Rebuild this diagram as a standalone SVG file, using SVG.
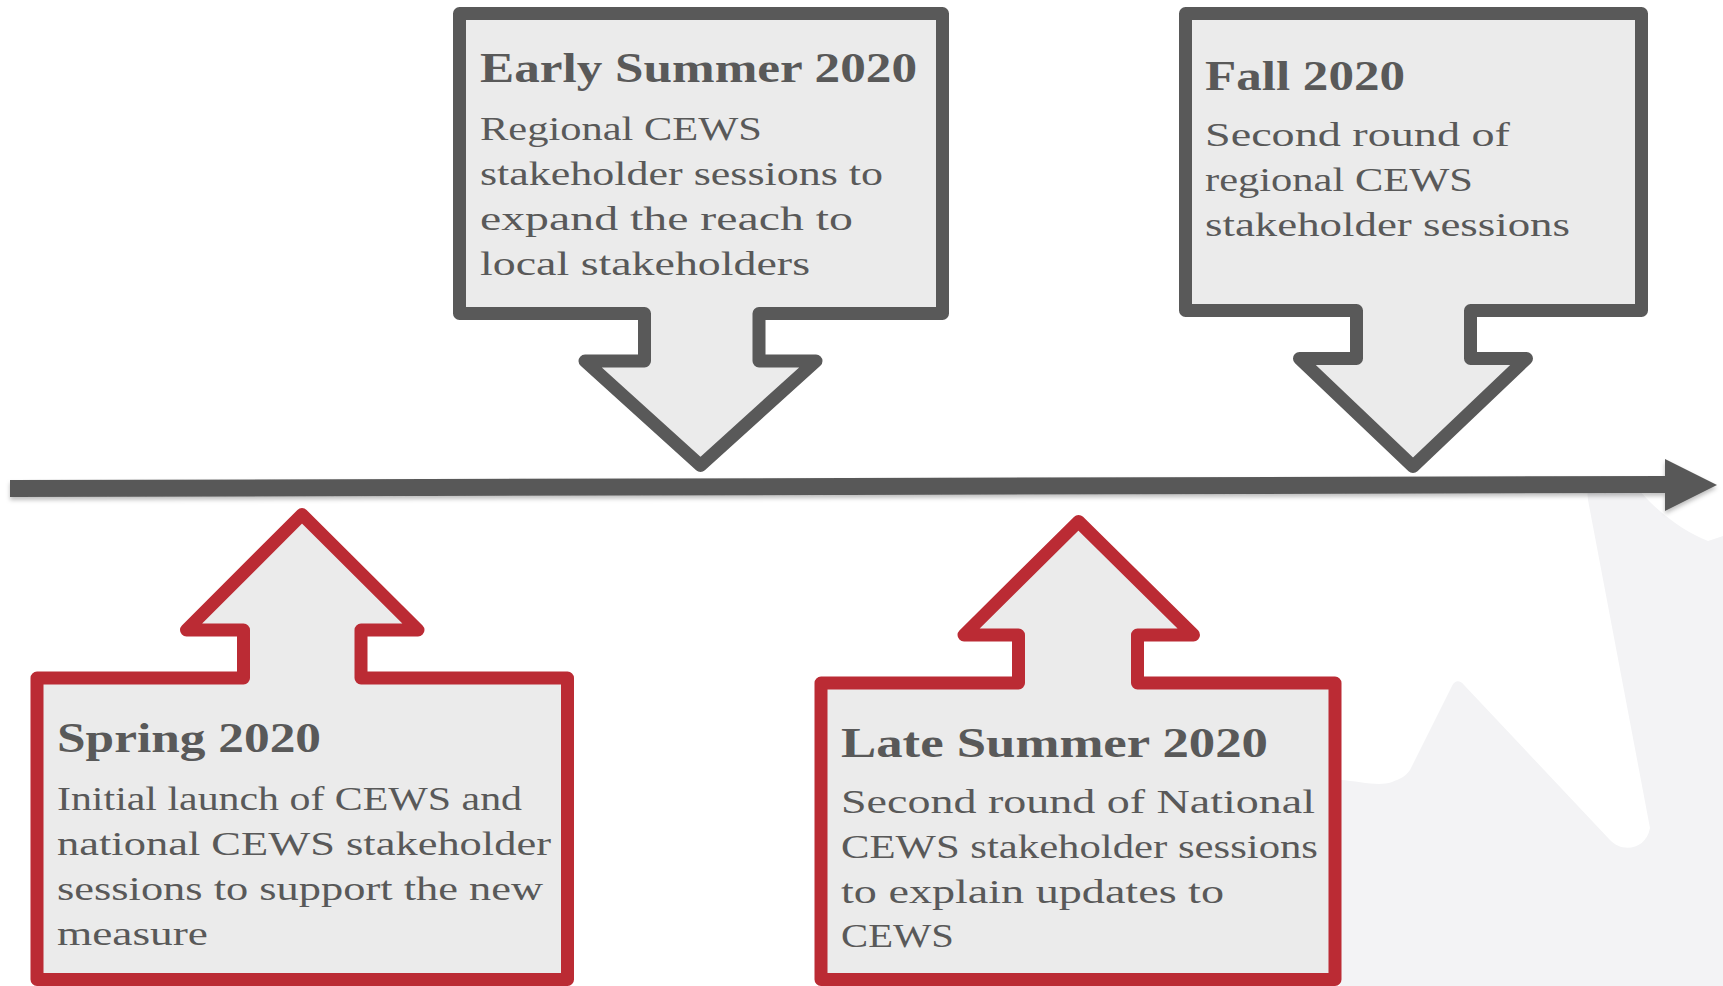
<svg xmlns="http://www.w3.org/2000/svg" width="1723" height="986" viewBox="0 0 1723 986">
<style>
  .bg { fill: #ffffff; }
  .wm { fill: #f3f3f5; }
  .callout-gray { fill: #ebebeb; stroke: #595959; stroke-width: 13; stroke-linejoin: round; }
  .callout-red { fill: #ebebeb; stroke: #bb2b34; stroke-width: 13; stroke-linejoin: round; }
  .head { font-family: "Liberation Serif", "Times New Roman", serif; font-weight: bold; font-size: 43px; fill: #595959; }
  .body { font-family: "Liberation Serif", "Times New Roman", serif; font-size: 34px; fill: #595959; }
  .tl { fill: #595959; }
</style>
<defs>
  <filter id="shadow" x="-5%" y="-50%" width="110%" height="250%">
    <feDropShadow dx="0" dy="3" stdDeviation="2" flood-color="#000000" flood-opacity="0.25"/>
  </filter>
</defs>
<rect class="bg" x="0" y="0" width="1723" height="986"/>
<path class="wm" d="M1586,478 L1630,478 C1648,505 1680,530 1708,541 L1723,536 V986 H1340 V780 C1360,781 1378,787 1392,782 C1400,779 1406,776 1410,770 L1452,686 C1455,680 1460,680 1464,685 L1610,840 C1622,853 1646,850 1650,828 L1588,500 Z"/>
<g id="connectors">
  <g id="timeline" filter="url(#shadow)">
    <polygon class="tl" points="10,480 1667,476 1667,493 10,497"/>
    <polygon class="tl" points="1665,459 1717,485 1665,511"/>
  </g>
</g>
<g id="node-early-summer">
  <path class="callout-gray" d="M459.5,13.5 H942.5 V313.5 H759 V361 H816 L700.5,465.5 L585,361 H644.5 V313.5 H459.5 Z"/>
  <text class="head" x="480" y="82" textLength="437" lengthAdjust="spacingAndGlyphs">Early Summer 2020</text>
  <text class="body" x="480" y="140" textLength="282" lengthAdjust="spacingAndGlyphs">Regional CEWS</text>
  <text class="body" x="480" y="185" textLength="403" lengthAdjust="spacingAndGlyphs">stakeholder sessions to</text>
  <text class="body" x="480" y="230" textLength="373" lengthAdjust="spacingAndGlyphs">expand the reach to</text>
  <text class="body" x="480" y="275" textLength="330" lengthAdjust="spacingAndGlyphs">local stakeholders</text>
</g>
<g id="node-fall">
  <path class="callout-gray" d="M1185.5,13.5 H1641.5 V310.5 H1470.5 V358.5 H1526.5 L1413,466.5 L1299.5,358.5 H1356.5 V310.5 H1185.5 Z"/>
  <text class="head" x="1205" y="90" textLength="200" lengthAdjust="spacingAndGlyphs">Fall 2020</text>
  <text class="body" x="1205" y="146" textLength="305" lengthAdjust="spacingAndGlyphs">Second round of</text>
  <text class="body" x="1205" y="191" textLength="268" lengthAdjust="spacingAndGlyphs">regional CEWS</text>
  <text class="body" x="1205" y="236" textLength="365" lengthAdjust="spacingAndGlyphs">stakeholder sessions</text>
</g>
<g id="node-spring">
  <path class="callout-red" d="M37,678 H243.5 V630 H186.5 L302,514.5 L418,630 H361 V678 H567.5 V979.5 H37 Z"/>
  <text class="head" x="57" y="752" textLength="264" lengthAdjust="spacingAndGlyphs">Spring 2020</text>
  <text class="body" x="57" y="810" textLength="465" lengthAdjust="spacingAndGlyphs">Initial launch of CEWS and</text>
  <text class="body" x="57" y="855" textLength="494" lengthAdjust="spacingAndGlyphs">national CEWS stakeholder</text>
  <text class="body" x="57" y="900" textLength="486" lengthAdjust="spacingAndGlyphs">sessions to support the new</text>
  <text class="body" x="57" y="945" textLength="151" lengthAdjust="spacingAndGlyphs">measure</text>
</g>
<g id="node-late-summer">
  <path class="callout-red" d="M821,683 H1018.5 V635 H964 L1078.5,521.5 L1193.5,635 H1137.5 V683 H1335 V979.5 H821 Z"/>
  <text class="head" x="841" y="757" textLength="427" lengthAdjust="spacingAndGlyphs">Late Summer 2020</text>
  <text class="body" x="841" y="813" textLength="474" lengthAdjust="spacingAndGlyphs">Second round of National</text>
  <text class="body" x="841" y="858" textLength="477" lengthAdjust="spacingAndGlyphs">CEWS stakeholder sessions</text>
  <text class="body" x="841" y="903" textLength="383" lengthAdjust="spacingAndGlyphs">to explain updates to</text>
  <text class="body" x="841" y="947" textLength="113" lengthAdjust="spacingAndGlyphs">CEWS</text>
</g>
</svg>
